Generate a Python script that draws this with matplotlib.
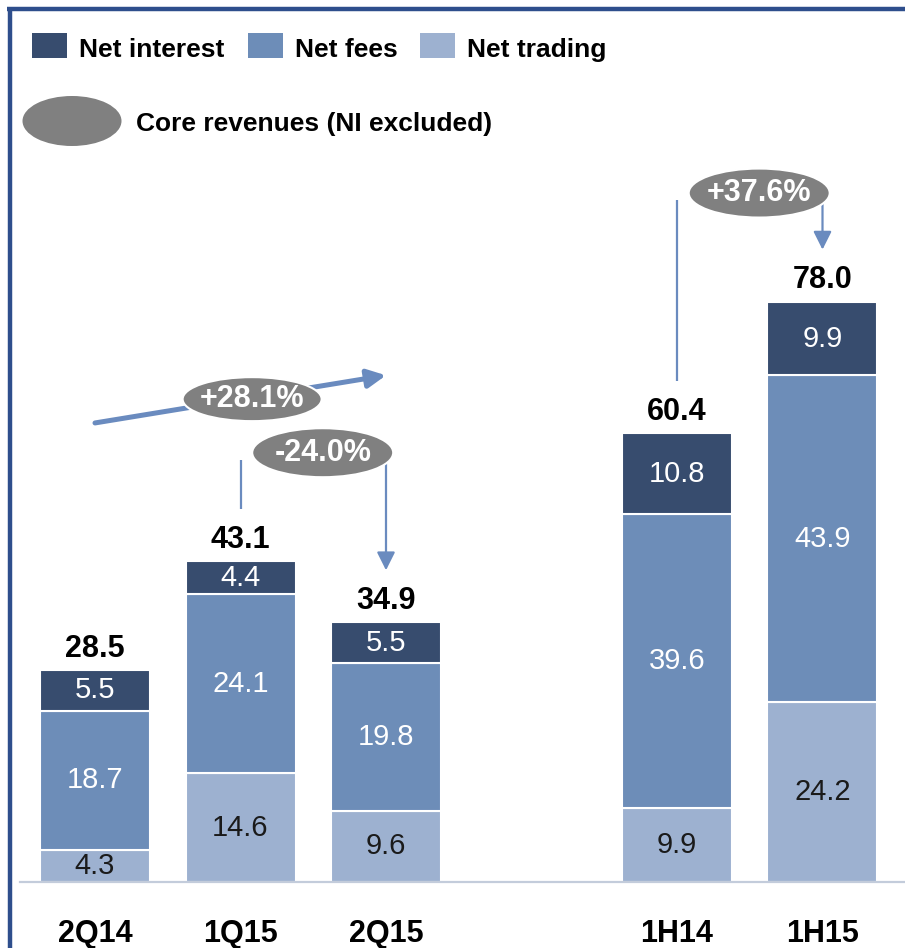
import matplotlib
matplotlib.use("Agg")
import matplotlib.pyplot as plt
from matplotlib.patches import Ellipse, Rectangle
from matplotlib.lines import Line2D
import numpy as np

plt.rcParams['font.family'] = ['Liberation Sans', 'DejaVu Sans']

# ---- data ----
categories = ["2Q14", "1Q15", "2Q15", "1H14", "1H15"]
positions = [0, 1, 2, 4, 5]
net_trading = [4.3, 14.6, 9.6, 9.9, 24.2]
net_fees = [18.7, 24.1, 19.8, 39.6, 43.9]
net_interest = [5.5, 4.4, 5.5, 10.8, 9.9]
totals = ["28.5", "43.1", "34.9", "60.4", "78.0"]
series_names = ["Net interest", "Net fees", "Net trading"]
growth_labels = ["+28.1%", "-24.0%", "+37.6%"]
core_label = "Core revenues (NI excluded)"

# ---- style ----
C_INT = "#374C6E"
C_FEE = "#6D8DB8"
C_TRD = "#9DB1D0"
C_ARROW = "#6A8BBF"
C_ELL = "#808080"
C_BORDER = "#2E4E8C"

W, H = 905, 948
fig = plt.figure(figsize=(W / 100, H / 100), dpi=100)
ax = fig.add_axes([0, 0, 1, 1])
ax.set_axis_off()

# pixel mapping (x: 145.5 px per slot, y: 7.44 px per unit)
sx, sy = 145.5, 7.44
x0px, y0px = 95, 882
ax.set_xlim(-x0px / sx, (W - x0px) / sx)
ax.set_ylim(-(H - y0px) / sy, y0px / sy)

bw = 110 / sx
pos = np.array(positions, dtype=float)
tr = np.array(net_trading)
fe = np.array(net_fees)
ni = np.array(net_interest)

ax.bar(pos, tr, bw, color=C_TRD, edgecolor="white", linewidth=1.5, zorder=2)
ax.bar(pos, fe, bw, bottom=tr, color=C_FEE, edgecolor="white", linewidth=1.5, zorder=2)
ax.bar(pos, ni, bw, bottom=tr + fe, color=C_INT, edgecolor="white", linewidth=1.5, zorder=2)

# baseline
ax.axhline(0, xmin=20 / W, xmax=1, color="#C3CCDB", lw=1.6, zorder=3)

# segment labels
for i, p in enumerate(pos):
    ax.text(p, tr[i] / 2, f"{tr[i]:.1f}", ha="center", va="center",
            fontsize=21, color="#1A1A1A", zorder=4)
    ax.text(p, tr[i] + fe[i] / 2, f"{fe[i]:.1f}", ha="center", va="center",
            fontsize=21, color="white", zorder=4)
    ax.text(p, tr[i] + fe[i] + ni[i] / 2, f"{ni[i]:.1f}", ha="center", va="center",
            fontsize=21, color="white", zorder=4)
    top = tr[i] + fe[i] + ni[i]
    ax.annotate(totals[i], (p, top), xytext=(0, 9.5), textcoords="offset points",
                ha="center", va="baseline", fontsize=22, fontweight="bold", color="black")
    ax.annotate(categories[i], (p, 0), xytext=(0, -43), textcoords="offset points",
                ha="center", va="baseline", fontsize=22, fontweight="bold", color="black",
                annotation_clip=False)

tops = tr + fe + ni
gap = 7.0
ap = dict(arrowstyle="-|>,head_length=1.1,head_width=0.55", color=C_ARROW,
          shrinkA=0, shrinkB=0, mutation_scale=10)

# +28.1% : diagonal arrow 2Q14 -> 2Q15
ya = 61.7
yb = 68.1
ax.annotate("", xy=(pos[2], yb), xytext=(pos[0], ya),
            arrowprops=dict(ap, lw=3.6), zorder=5)
ell_w, ell_h = 139 / sx, 44 / sy
cx0 = (pos[0] + pos[2]) / 2 + 0.08
cy0 = (ya + yb) / 2
ax.add_patch(Ellipse((cx0, cy0), ell_w, ell_h,
                     facecolor=C_ELL, edgecolor="white", lw=1.5, zorder=6))
ax.text(cx0, cy0, growth_labels[0], ha="center",
        va="center", fontsize=22, fontweight="bold", color="white", zorder=7)

# bracket arrows
def bracket(i, j, label):
    ytop = max(tops[i], tops[j]) + 13.6
    ax.plot([pos[i], pos[i]], [tops[i] + gap, ytop], color=C_ARROW, lw=1.6,
            solid_capstyle="butt", zorder=5)
    ax.annotate("", xy=(pos[j], tops[j] + gap), xytext=(pos[j], ytop),
                arrowprops=dict(ap, lw=1.6), zorder=5)
    cx = (pos[i] + pos[j]) / 2 + 0.065
    cy = ytop + 1.0
    ax.add_patch(Ellipse((cx, cy), 141 / sx, 49 / sy, facecolor=C_ELL,
                         edgecolor="white", lw=1.5, zorder=6))
    ax.text(cx, cy, label, ha="center", va="center", fontsize=22,
            fontweight="bold", color="white", zorder=7)

bracket(1, 2, growth_labels[1])
bracket(3, 4, growth_labels[2])

# ---- legend (figure pixel coords) ----
def fx(px):
    return px / W

def fy(py):
    return 1 - py / H

leg_colors = [C_INT, C_FEE, C_TRD]
sq_x = [32, 248, 420]
for c, x, name in zip(leg_colors, sq_x, series_names):
    fig.add_artist(Rectangle((fx(x), fy(58)), 35 / W, 25 / H, facecolor=c,
                             edgecolor="none", transform=fig.transFigure))
    fig.text(fx(x + 47), fy(57), name, ha="left", va="baseline", fontsize=19,
             fontweight="bold", color="black")
fig.add_artist(Ellipse((fx(72), fy(121)), 99 / W, 50 / H, facecolor=C_ELL,
                       edgecolor="none", transform=fig.transFigure))
fig.text(fx(136), fy(131), core_label, ha="left", va="baseline", fontsize=19,
         fontweight="bold", color="black")

# border
fig.add_artist(Line2D([fx(7), 1], [fy(9), fy(9)], color=C_BORDER, lw=3.2,
                      transform=fig.transFigure, solid_capstyle="butt"))
fig.add_artist(Line2D([fx(9.5), fx(9.5)], [fy(7), 0], color=C_BORDER, lw=3.2,
                      transform=fig.transFigure, solid_capstyle="butt"))

fig.savefig("out.png", dpi=100)
